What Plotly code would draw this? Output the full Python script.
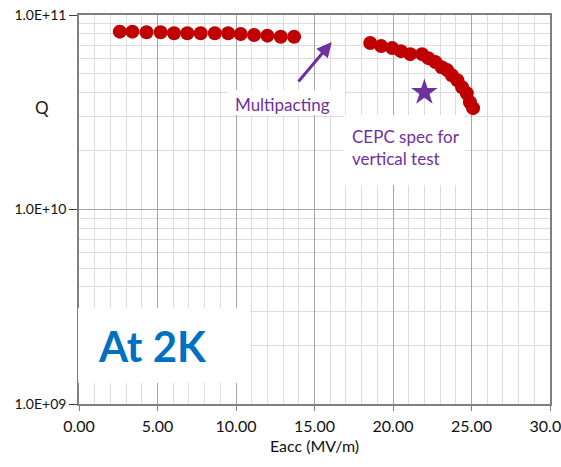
import plotly.graph_objects as go
import math

# Data: Q vs Eacc at 2K
eacc_low = [2.6, 3.4, 4.3, 5.2, 6.05, 6.9, 7.75, 8.65, 9.5, 10.3, 11.15, 12.0, 12.85, 13.7]
q_low = [8.21e10, 8.21e10, 8.15e10, 8.15e10, 8.05e10, 8.05e10, 8.05e10, 8.05e10, 8.05e10,
         7.99e10, 7.89e10, 7.83e10, 7.73e10, 7.73e10]
eacc_high = [18.55, 19.25, 19.95, 20.5, 21.1, 21.85, 22.25, 22.7, 23.1, 23.45, 23.75, 24.1,
             24.4, 24.7, 24.9, 25.1]
q_high = [7.18e10, 6.92e10, 6.76e10, 6.52e10, 6.29e10, 6.29e10, 6.0e10, 5.73e10, 5.39e10,
          5.21e10, 4.9e10, 4.62e10, 4.25e10, 3.96e10, 3.56e10, 3.32e10]
spec_eacc = [22.0]
spec_q = [4.0e10]

y_tickvals = [1e9, 1e10, 1e11]
y_ticktext = ["1.0E+09", "1.0E+10", "1.0E+11"]
x_tickvals = [0, 5, 10, 15, 20, 25, 30]

RED = "#C00000"
PURPLE = "#7030A0"
BLUE = "#0070C0"

fig = go.Figure()
fig.add_trace(go.Scatter(x=eacc_low + eacc_high, y=q_low + q_high, mode="markers",
                         marker=dict(color=RED, size=14, line=dict(width=0)),
                         showlegend=False))
fig.add_trace(go.Scatter(x=spec_eacc, y=spec_q, mode="markers",
                         marker=dict(color=PURPLE, size=20, symbol="star", line=dict(width=0)),
                         showlegend=False))

# white boxes behind texts
boxes = [(-0.002, 0.054, 0.363, 0.247), (0.314, 0.743, 0.565, 0.807), (0.561, 0.563, 0.82, 0.743)]
for x0, y0, x1, y1 in boxes:
    fig.add_shape(type="rect", xref="paper", yref="paper", x0=x0, y0=y0, x1=x1, y1=y1,
                  fillcolor="white", line=dict(width=0), layer="above")

fig.add_annotation(xref="paper", yref="paper", x=0.155, y=0.149, text="<b>At 2K</b>",
                   xanchor="center", yanchor="middle",
                   showarrow=False, font=dict(size=42, color=BLUE, family="Lato"))
fig.add_annotation(xref="paper", yref="paper", x=0.433, y=0.771, text="Multipacting",
                   xanchor="center", yanchor="middle",
                   showarrow=False, font=dict(size=17, color=PURPLE, family="Lato"))
fig.add_annotation(xref="paper", yref="paper", x=0.575, y=0.659, xanchor="left", yanchor="middle",
                   text="CEPC spec for<br>vertical test", align="left",
                   showarrow=False, font=dict(size=17, color=PURPLE, family="Lato"))
# arrow
fig.add_annotation(x=16.1, y=math.log10(7.26e10), ax=13.9, ay=math.log10(4.47e10),
                   xref="x", yref="y", axref="x", ayref="y", text="", showarrow=True,
                   arrowhead=2, arrowsize=1.0, arrowwidth=3, arrowcolor=PURPLE)
# Q label
fig.add_annotation(xref="paper", yref="paper", x=(42 - 79) / 471, y=(404 - 107) / 389,
                   xanchor="center", yanchor="middle",
                   text="Q", showarrow=False, font=dict(size=17, color="#1a1a1a", family="Lato"))

fig.update_layout(
    width=561, height=467,
    margin=dict(l=79, r=11, t=15, b=63),
    paper_bgcolor="white", plot_bgcolor="white",
    font=dict(family="Lato", color="#1a1a1a"),
    xaxis=dict(range=[0, 30], tickmode="array", tickvals=x_tickvals, tickformat=".2f",
               showgrid=True, gridcolor="#a6a6a6", gridwidth=1,
               minor=dict(dtick=1, showgrid=True, gridcolor="#dcdcdc", ticks=""),
               showline=True, linecolor="#7f7f7f", linewidth=1.5, mirror=True,
               ticks="outside", ticklen=5, tickcolor="#7f7f7f",
               tickfont=dict(size=16, color="#111111"), ticklabelstandoff=2,
               ticklabeloverflow="allow",
               title=dict(text="Eacc (MV/m)", font=dict(size=16, color="#111111"), standoff=7),
               zeroline=False, automargin=False),
    yaxis=dict(type="log", range=[9, 11], tickmode="array", tickvals=y_tickvals,
               ticktext=y_ticktext, showgrid=True, gridcolor="#a6a6a6", gridwidth=1,
               minor=dict(dtick="D1", showgrid=True, gridcolor="#dcdcdc", ticks=""),
               showline=True, linecolor="#7f7f7f", linewidth=1.5, mirror=True,
               ticks="outside", ticklen=8, tickcolor="#404040",
               tickfont=dict(size=14, color="#111111"),
               zeroline=False, automargin=False),
)

fig.write_html("out.html")
